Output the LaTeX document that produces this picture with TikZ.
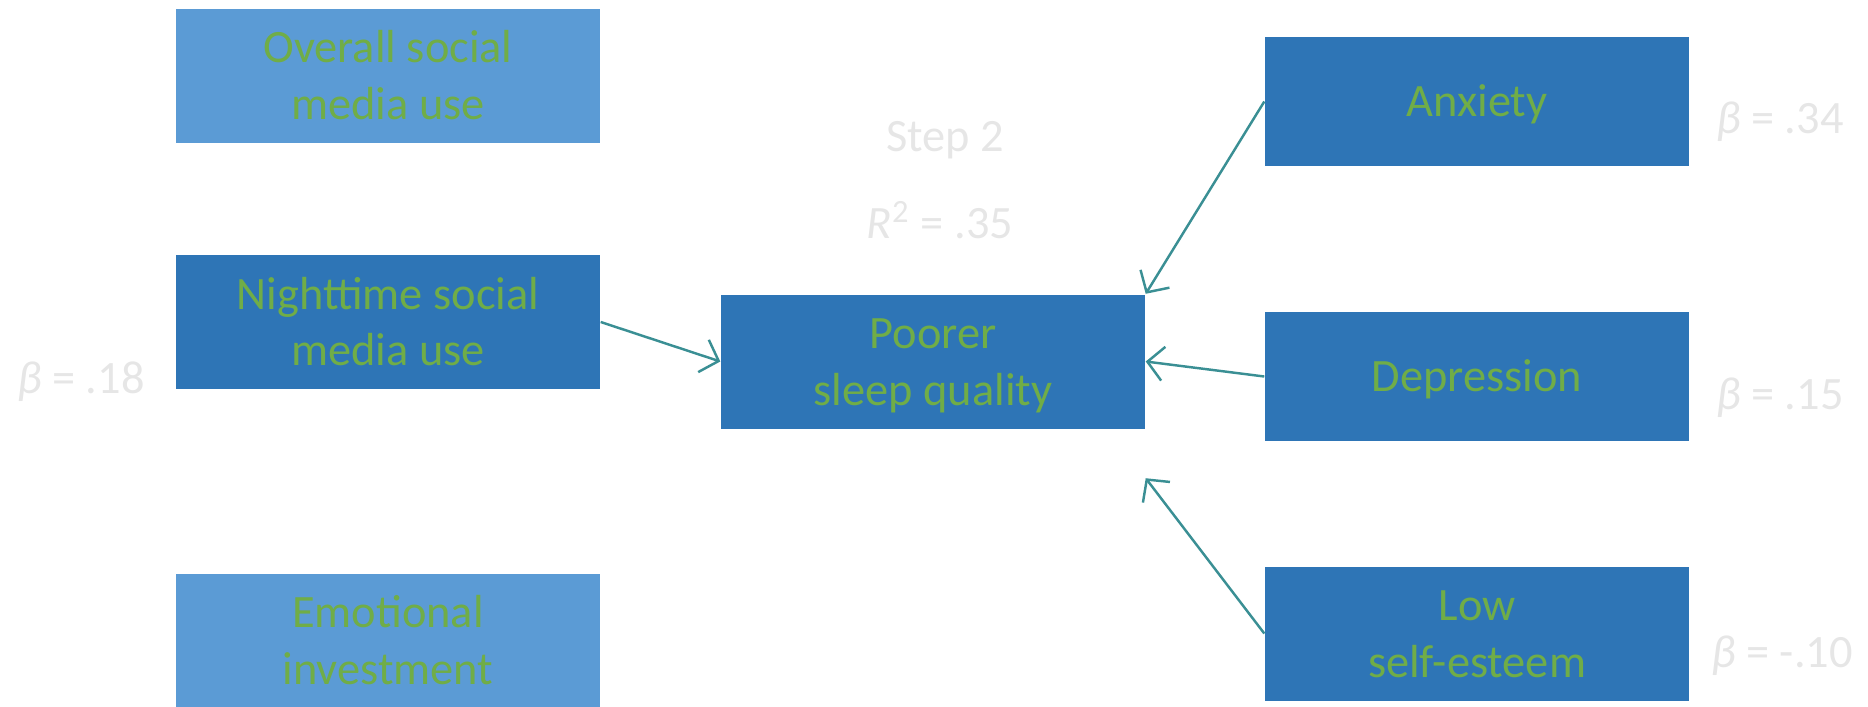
\documentclass[tikz,border=0pt]{standalone}
\usepackage{fontspec}
\setmainfont{Carlito}
\usetikzlibrary{positioning,arrows.meta}
\definecolor{boxdark}{HTML}{2E75B6}
\definecolor{boxlight}{HTML}{5B9BD5}
\definecolor{labgreen}{HTML}{70AD47}
\definecolor{statgray}{HTML}{E6E6E6}
\definecolor{linkteal}{HTML}{3A8F94}
% line box like the slide text: 12pt above, 3.2pt below the baseline
\newcommand\bs{\rule[-3.2pt]{0pt}{15.2pt}}
\tikzset{
    varbox/.style={fill=boxdark, text=labgreen, align=center, inner sep=0pt,
        minimum width=4.24cm, minimum height=1.34cm,
        font=\fontsize{13.2}{16.2}\selectfont,
        execute at end node=\bs},
    stat/.style={text=statgray, inner sep=0pt, font=\fontsize{13.2}{16.2}\selectfont},
    link/.style={->, draw=linkteal, line width=0.7pt}
}
\begin{document}
\begin{tikzpicture}[>={Straight Barb[length=1.6mm,width=3.4mm]}]
    \useasboundingbox (0, 0) rectangle (18.68, 7.06);
    % left column
    \node[varbox, fill=boxlight] (overall) at (3.88, 6.305) {\bs Overall social\\media use};
    \node[varbox] (night) at (3.88, 3.84) {\bs Nighttime social\\media use};
    \node[varbox, fill=boxlight] (emo) at (3.88, 0.655) {\bs Emotional\\investment};
    % outcome
    \node[varbox] (poor) at (9.33, 3.445) {\bs Poorer\\sleep quality};
    % right column
    \node[varbox, minimum height=1.29cm] (anx) at (14.77, 6.045) {\bs Anxiety};
    \node[varbox, minimum height=1.29cm] (dep) at (14.77, 3.295) {\bs Depression};
    \node[varbox] (low) at (14.77, 0.725) {\bs Low\\self-esteem};
    \coordinate[below=4.9mm of poor.south east] (lowend);

    \node[stat] (stepno) at (9.45, 5.655) {Step 2};
    \node[stat] (rsq) at (9.40, 4.86) {\textit{R}\textsuperscript{2} = .35};
    \node[stat] (bnight) at (0.81, 3.245) {\textit{β} = .18};
    \node[stat] (banx) at (17.80, 5.845) {\textit{β} = .34};
    \node[stat] (bdep) at (17.80, 3.08) {\textit{β} = .15};
    \node[stat] (blow) at (17.82, 0.505) {\textit{β} = -.10};

    \draw[link] (night.east) -- (poor.west);
    \draw[link] (anx.west) -- (poor.north east);
    \draw[link] (dep.west) -- (poor.east);
    \draw[link] (low.west) -- (lowend);
\end{tikzpicture}
\end{document}
